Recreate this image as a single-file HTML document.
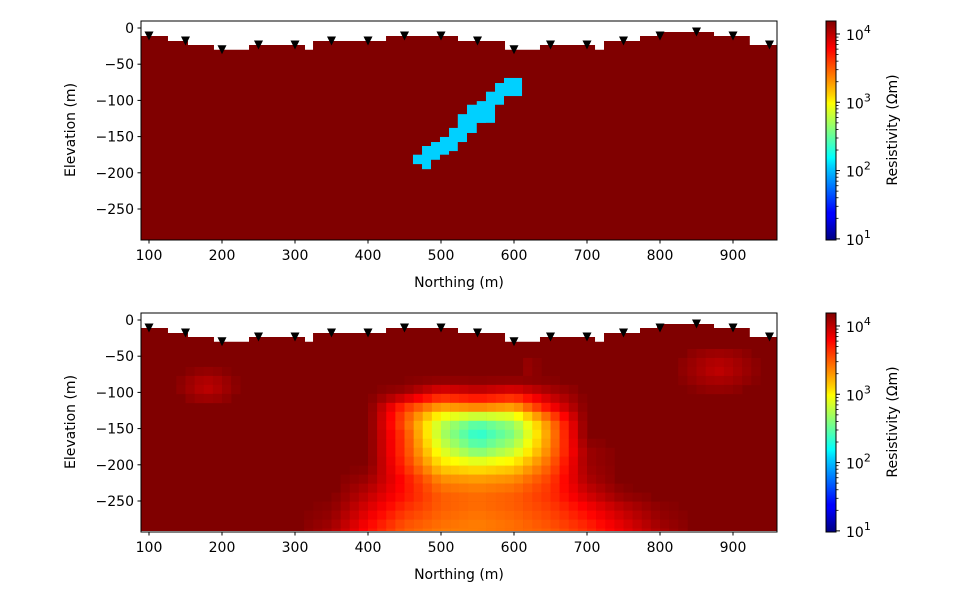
<!DOCTYPE html>
<html><head><meta charset="utf-8"><style>
body{margin:0;background:#fff;}
svg text{font-family:"DejaVu Sans","Liberation Sans",sans-serif;font-size:14px;fill:#000;}
</style></head><body>
<svg id="fig" width="977" height="600" viewBox="0 0 977 600" xmlns="http://www.w3.org/2000/svg">
<defs>
<linearGradient id="jet" x1="0" y1="1" x2="0" y2="0">
<stop offset="0" stop-color="#000080"/><stop offset="0.11" stop-color="#0000ff"/><stop offset="0.125" stop-color="#0000ff"/>
<stop offset="0.34" stop-color="#00d4ff"/><stop offset="0.375" stop-color="#00ffff"/><stop offset="0.5" stop-color="#80ff80"/>
<stop offset="0.625" stop-color="#ffff00"/><stop offset="0.66" stop-color="#ffd400"/><stop offset="0.875" stop-color="#ff0000"/><stop offset="1" stop-color="#800000"/>
</linearGradient>
<clipPath id="clipTop"><rect x="141" y="21" width="636" height="219"/></clipPath>
<clipPath id="clipBot"><rect x="141" y="313" width="636" height="218"/></clipPath>
</defs>
<g id="top"></g>
<g id="bot"></g>
</svg>
<script>
// ---- data ----
const stations=[100,150,200,250,300,350,400,450,500,550,600,650,700,750,800,850,900,950];
const stationElev=[-11,-18,-30,-23.5,-23.5,-18,-18,-11,-11,-18,-30,-23.5,-23.5,-18,-11,-5.5,-11,-23.5];
const terrainX=[89,126,153.4,189,237,313.7,324.7,424.7,523.3,587.7,635.6,711,723.3,772.6,796,874,923,960];
const terrainElev=[-11,-18,-23.5,-30,-23.5,-30,-18,-11,-18,-30,-23.5,-30,-18,-11,-5.5,-11,-23.5];
const dikeX0=[586.3,574,561.6,549,535.6,523,511,498.6,486.3,474,461.6,474];
const dikeX1=[611,586.3,586.3,574,561.6,549,535.6,523,511,498.6,486.3,486.3];
const dikeTop=[-69,-76,-88,-101,-106,-119,-138,-150.5,-157.5,-163,-175,-175];
const dikeBot=[-94,-94,-106,-131,-131,-145,-157.5,-170,-175,-182,-188,-195];
const dikeLog=2.05;
const bgLog=4.19;
const gridX=[300,350,400,450,500,550,600,650,700,750,800,850];
const gridY=[-80,-100,-120,-140,-160,-180,-200,-220,-240,-260,-280,-295];
const gridV=[
[4.19,4.19,4.19,4.19,4.19,4.19,4.19,4.19,4.19,4.19,4.19,4.19],
[4.19,4.19,4.19,4.1,3.85,3.95,3.85,4.05,4.19,4.19,4.19,4.19],
[4.19,4.19,4.19,3.65,3.3,3.4,3.3,3.8,4.19,4.19,4.19,4.19],
[4.19,4.19,4.19,3.5,2.8,2.5,2.7,3.4,4.19,4.19,4.19,4.19],
[4.19,4.19,4.19,3.6,2.75,2.3,2.6,3.35,4.19,4.19,4.19,4.19],
[4.19,4.19,4.19,3.6,2.9,2.55,2.8,3.4,4.1,4.19,4.19,4.19],
[4.19,4.19,4.19,3.65,3.1,3.0,3.1,3.5,4.1,4.19,4.19,4.19],
[4.19,4.19,4.1,3.75,3.35,3.3,3.35,3.6,4.05,4.19,4.19,4.19],
[4.19,4.19,4.0,3.75,3.5,3.45,3.5,3.65,3.95,4.15,4.19,4.19],
[4.19,4.15,3.9,3.65,3.5,3.45,3.5,3.6,3.8,4.0,4.15,4.19],
[4.19,4.1,3.8,3.55,3.45,3.4,3.45,3.55,3.7,3.9,4.1,4.19],
[4.19,4.05,3.75,3.5,3.4,3.4,3.45,3.5,3.65,3.85,4.05,4.19]];
const blobX=[180,880,470,620];
const blobY=[-92,-68,-100,-65];
const blobV=[3.98,3.98,4.08,4.05];
const blobR=[30,40,18,12];
const xTicks=[100,200,300,400,500,600,700,800,900];
const yTicks=[0,-50,-100,-150,-200,-250];
const cbTicks=[1,2,3,4];

const xs=d=>149+(d-100)*0.73;
const yTop=d=>28-d*0.724;
const yBot=d=>320-d*0.724;
const NS="http://www.w3.org/2000/svg";
function mk(tag,attrs,parent){const e=document.createElementNS(NS,tag);for(const k in attrs)e.setAttribute(k,attrs[k]);parent.appendChild(e);return e;}
function jet(L){let t=(L-1)/3.19;t=Math.max(0,Math.min(1,t));
 const c=v=>Math.round(255*Math.max(0,Math.min(1,v)));
 return `rgb(${c(1.5-Math.abs(4*t-3))},${c(1.5-Math.abs(4*t-2))},${c(1.5-Math.abs(4*t-1))})`;}
function gridVal(x,y){
 let v=bgLog;
 if(x>=gridX[0]&&x<=gridX[gridX.length-1]&&y<=gridY[0]&&y>=gridY[gridY.length-1]){
  let i=0;while(i<gridX.length-2&&x>gridX[i+1])i++;
  let j=0;while(j<gridY.length-2&&y<gridY[j+1])j++;
  const tx=(x-gridX[i])/(gridX[i+1]-gridX[i]),ty=(y-gridY[j])/(gridY[j+1]-gridY[j]);
  v=(1-tx)*(1-ty)*gridV[j][i]+tx*(1-ty)*gridV[j][i+1]+(1-tx)*ty*gridV[j+1][i]+tx*ty*gridV[j+1][i+1];
 } else if(x>=gridX[0]&&x<=gridX[gridX.length-1]&&y<gridY[gridY.length-1]){
  let i=0;while(i<gridX.length-2&&x>gridX[i+1])i++;
  const tx=(x-gridX[i])/(gridX[i+1]-gridX[i]);const r=gridV[gridV.length-1];
  v=(1-tx)*r[i]+tx*r[i+1];
 }
 for(let k=0;k<blobX.length;k++){const d=Math.hypot((x-blobX[k])/1.6,y-blobY[k]);
  if(d<blobR[k]){const w=1-d/blobR[k];v=Math.min(v,bgLog-(bgLog-blobV[k])*w);}}
 return v;}

function panel(g,ys,y0,clip,isTop){
 const body=mk('g',{'clip-path':`url(#${clip})`},g);
 const bg=mk('rect',{x:141,y:y0,width:636,height:219,fill:jet(bgLog)},body);
 
 
 if(isTop){
  for(let k=0;k<dikeX0.length;k++){
   const r=mk('rect',{x:xs(dikeX0[k]),y:ys(dikeTop[k]),width:xs(dikeX1[k])-xs(dikeX0[k]),height:ys(dikeBot[k])-ys(dikeTop[k]),fill:jet(dikeLog)},body);
   
   
  }
 } else {
  for(let x=87.5;x<962.5;x+=12.5){for(let y=-40;y>-305;y-=12.4){
   const v=gridVal(x+6.25,y-6.2); if(v>4.17)continue;
   const r=mk('rect',{x:xs(x),y:ys(y),width:xs(x+12.5)-xs(x)+0.3,height:ys(y-12.4)-ys(y)+0.3,fill:jet(v)},body);
   
   
  }}
 }
 let p=`M${xs(terrainX[0])},${y0-2}`;
 for(let k=0;k<terrainElev.length;k++){p+=` L${xs(terrainX[k])},${ys(terrainElev[k])} L${xs(terrainX[k+1])},${ys(terrainElev[k])}`;}
 p+=` L${xs(terrainX[terrainX.length-1])},${y0-2} Z`;
 const m=mk('path',{d:p,fill:'#fff'},body);
 
 
 for(let k=0;k<stations.length;k++){
  const cx=xs(stations[k]),cy=ys(stationElev[k]);
  const t=mk('path',{d:`M${cx-4.5},${cy-4.5} L${cx+4.5},${cy-4.5} L${cx},${cy+4.5} Z`,fill:'#000'},body);
  
  
 }
 const fr=mk('rect',{x:141,y:y0,width:636,height:219,fill:'none',stroke:'#000','stroke-width':1},g);
 
 
 for(const t of xTicks){
  const X=xs(t);mk('line',{x1:X,x2:X,y1:y0+219,y2:y0+222.5,stroke:'#000'},g);
  const tx=mk('text',{x:X,y:y0+239,'text-anchor':'middle'},g);tx.textContent=t;
  
  
 }
 for(const t of yTicks){
  const Y=ys(t);mk('line',{x1:141,x2:137.5,y1:Y,y2:Y,stroke:'#000'},g);
  const tx=mk('text',{x:134,y:Y+5,'text-anchor':'end'},g);tx.textContent=t===0?'0':'\u2212'+(-t);
  
  
 }
 const xl=mk('text',{x:459,y:y0+266,'text-anchor':'middle'},g);xl.textContent='Northing (m)';
 
 
 const yl=mk('text',{x:0,y:0,'text-anchor':'middle',transform:`translate(75,${y0+109}) rotate(-90)`},g);yl.textContent='Elevation (m)';
 
 
 const cb=mk('rect',{x:826,y:y0,width:10,height:219,fill:'url(#jet)',stroke:'#000','stroke-width':1},g);
 
 
 const cy=L=>y0+(4.19-L)*68.3;
 for(let d=1;d<=4;d++){for(let m=2;m<=9;m++){const L=d+Math.log10(m);if(L>4.19)continue;
  mk('line',{x1:836,x2:838.5,y1:cy(L),y2:cy(L),stroke:'#000','stroke-width':0.8},g);}}
 for(const t of cbTicks){
  const Y=cy(t);mk('line',{x1:836,x2:840,y1:Y,y2:Y,stroke:'#000'},g);
  const tx=mk('text',{x:846,y:Y+6,'font-size':'15'},g);
  tx.innerHTML=`10<tspan dy="-7" font-size="11">${t}</tspan>`;
  
  
 }
 const cl=mk('text',{x:0,y:0,'text-anchor':'middle',transform:`translate(897,${y0+109}) rotate(-90)`,'font-size':'15'},g);cl.textContent='Resistivity (\u03A9m)';
 
 
}
panel(document.getElementById('top'),yTop,21,'clipTop',true);
panel(document.getElementById('bot'),yBot,313,'clipBot',false);
</script>
</body></html>
